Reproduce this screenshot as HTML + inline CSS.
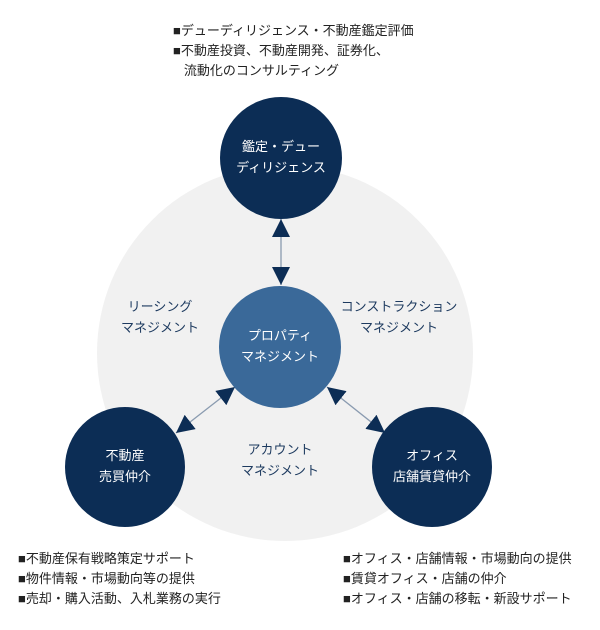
<!DOCTYPE html>
<html><head><meta charset="utf-8"><style>
body{margin:0;background:#fff;width:600px;height:630px;overflow:hidden;font-family:"Liberation Sans","Noto Sans CJK JP",sans-serif}
svg{position:absolute;left:0;top:0}
.t{position:absolute;font-size:13px;color:#222;line-height:20px;white-space:nowrap}
</style></head><body>
<svg width="600" height="630" viewBox="0 0 600 630">
<defs>
<marker id="b" viewBox="0 0 10 10" refX="10" refY="5" markerWidth="18" markerHeight="18" markerUnits="userSpaceOnUse" orient="auto-start-reverse"><path d="M0,0L10,5L0,10z" fill="#0c2d55"/></marker></defs>
<circle cx="285" cy="353" r="188" fill="#f1f1f1"/>
<line x1="281" y1="219" x2="281" y2="285" stroke="#8a9bb0" stroke-width="1.3" marker-start="url(#b)" marker-end="url(#b)"/>
<line x1="176" y1="433" x2="235" y2="387" stroke="#8a9bb0" stroke-width="1.3" marker-start="url(#b)" marker-end="url(#b)"/>
<line x1="327" y1="387" x2="385" y2="433" stroke="#8a9bb0" stroke-width="1.3" marker-start="url(#b)" marker-end="url(#b)"/>
<circle cx="281" cy="158" r="61" fill="#0c2d55"/>
<circle cx="280" cy="347" r="61" fill="#3a6999"/>
<circle cx="125" cy="467" r="60" fill="#0c2d55"/>
<circle cx="432" cy="467" r="60" fill="#0c2d55"/>
<g font-family="Liberation Sans, Noto Sans CJK JP, sans-serif" font-size="13" text-anchor="middle">
<text x="281" y="151" fill="#fff">鑑定・デュー</text>
<text x="281" y="172" fill="#fff">ディリジェンス</text>
<text x="280" y="340" fill="#fff">プロパティ</text>
<text x="280" y="361" fill="#fff">マネジメント</text>
<text x="125" y="460" fill="#fff">不動産</text>
<text x="125" y="481" fill="#fff">売買仲介</text>
<text x="432" y="460" fill="#fff">オフィス</text>
<text x="432" y="481" fill="#fff">店舗賃貸仲介</text>
<g fill="#1d3a5f">
<text x="160" y="311">リーシング</text>
<text x="160" y="332">マネジメント</text>
<text x="399" y="311">コンストラクション</text>
<text x="399" y="332">マネジメント</text>
<text x="280" y="454">アカウント</text>
<text x="280" y="475">マネジメント</text>
</g></g>
</svg>
<div class="t" style="left:173px;top:21px">■デューディリジェンス・不動産鑑定評価<br>■不動産投資、不動産開発、証券化、<br>&nbsp;&nbsp;&nbsp;流動化のコンサルティング</div>
<div class="t" style="left:18px;top:549px">■不動産保有戦略策定サポート<br>■物件情報・市場動向等の提供<br>■売却・購入活動、入札業務の実行</div>
<div class="t" style="left:343px;top:549px">■オフィス・店舗情報・市場動向の提供<br>■賃貸オフィス・店舗の仲介<br>■オフィス・店舗の移転・新設サポート</div>
</body></html>
